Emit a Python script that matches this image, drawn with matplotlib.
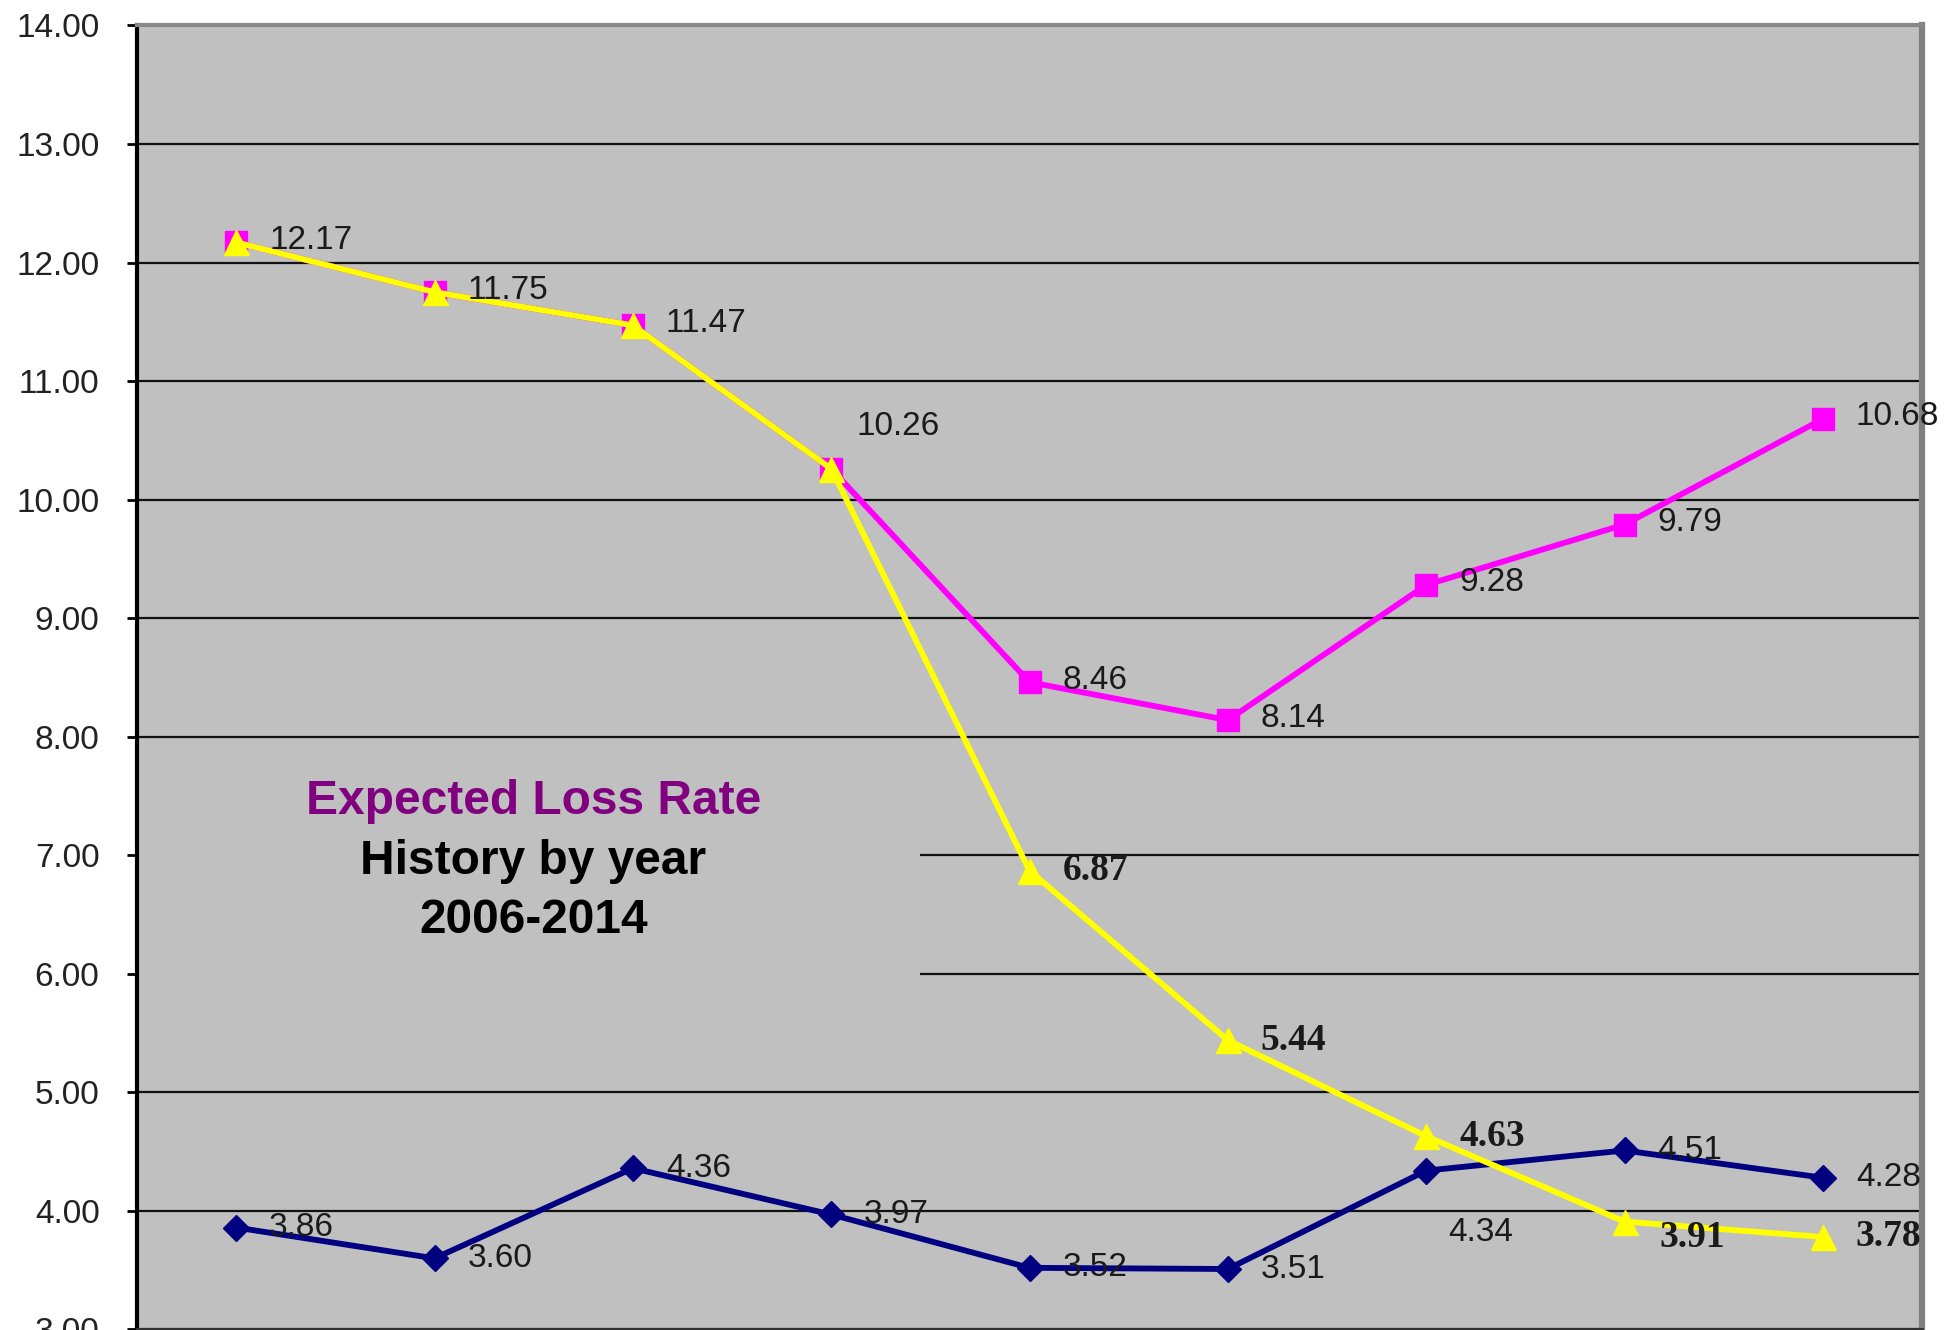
import numpy as np
import matplotlib.pyplot as plt
from matplotlib.patches import Rectangle

# ---- data ----
years = [2006, 2007, 2008, 2009, 2010, 2011, 2012, 2013, 2014]
navy_vals = [3.86, 3.60, 4.36, 3.97, 3.52, 3.51, 4.34, 4.51, 4.28]
pink_vals = [12.17, 11.75, 11.47, 10.26, 8.46, 8.14, 9.28, 9.79, 10.68]
yellow_vals = [12.17, 11.75, 11.47, 10.26, 6.87, 5.44, 4.63, 3.91, 3.78]
yticks = np.arange(3, 15, 1)

# label offsets in pixels (dx, dy)
navy_off = [(33, 0)] * 9
navy_off[6] = (22, -62)
pink_off = [(33, 2)] * 9
pink_off[3] = (25, 42)
yellow_off = [(33, 0)] * 9
yellow_off[7] = (35, -16)

bg = '#C0C0C0'
lab_col = '#1a1a1a'

fig = plt.figure(figsize=(19.44, 13.3), dpi=100)
ax = fig.add_axes([137/1944, 0.0004, (1922-137)/1944, 0.9805])
ax.set_facecolor(bg)

x = np.arange(1, len(years) + 1)
ax.set_xlim(0.5, len(years) + 0.5)
ax.set_ylim(3, 14)

ax.set_axisbelow(True)
ax.yaxis.grid(True, color='#111111', linewidth=1.6)
ax.set_yticks(yticks)
ax.set_yticklabels(['%.2f' % v for v in yticks], fontsize=24,
                   family='Liberation Sans', color='#222222')
ax.tick_params(axis='y', length=7, width=2, pad=20, color='black')
ax.set_xticks([])

ax.spines['bottom'].set_color('#333333')
ax.spines['bottom'].set_linewidth(2)
ax.spines['left'].set_color('black')
ax.spines['left'].set_linewidth(3)
ax.spines['top'].set_color('#888888')
ax.spines['top'].set_linewidth(3)
ax.spines['right'].set_color('#808080')
ax.spines['right'].set_linewidth(4.5)

# title panel hides the grid behind it
ax.add_patch(Rectangle((0, 0.225), 0.4385, 0.19, transform=ax.transAxes,
                       facecolor=bg, edgecolor='none', zorder=1))

ax.plot(x, navy_vals, color='#000080', lw=4.2, marker='D', ms=13, zorder=3)
ax.plot(x, pink_vals, color='#FF00FF', lw=4.2, marker='s', ms=16, zorder=4)
ax.plot(x, yellow_vals, color='#FFFF00', lw=4.2, marker='^', ms=18, zorder=5)

for xi, v, off in zip(x, navy_vals, navy_off):
    ax.annotate('%.2f' % v, (xi, v), xytext=off, textcoords='offset pixels',
                fontsize=24, family='Liberation Sans', color=lab_col,
                va='center', ha='left', zorder=6)

for xi, v, off in zip(x, pink_vals, pink_off):
    ax.annotate('%.2f' % v, (xi, v), xytext=off, textcoords='offset pixels',
                fontsize=24, family='Liberation Sans', color=lab_col,
                va='center', ha='left', zorder=6, annotation_clip=False)

# the yellow series shares its first four points with the pink one
for xi, v, off in list(zip(x, yellow_vals, yellow_off))[4:]:
    ax.annotate('%.2f' % v, (xi, v), xytext=off, textcoords='offset pixels',
                fontsize=27, family='Liberation Serif', weight='bold',
                color=lab_col, va='center', ha='left', zorder=6)

ax.text(0.222, 0.4045, 'Expected Loss Rate', transform=ax.transAxes,
        fontsize=34.5, weight='bold', family='Liberation Sans', color='#800080',
        ha='center', va='center', zorder=6)
ax.text(0.222, 0.3586, 'History by year', transform=ax.transAxes,
        fontsize=34.5, weight='bold', family='Liberation Sans', color='black',
        ha='center', va='center', zorder=6)
ax.text(0.222, 0.3134, '2006-2014', transform=ax.transAxes,
        fontsize=34.5, weight='bold', family='Liberation Sans', color='black',
        ha='center', va='center', zorder=6)

fig.savefig('out.png', dpi=100, facecolor='white')
